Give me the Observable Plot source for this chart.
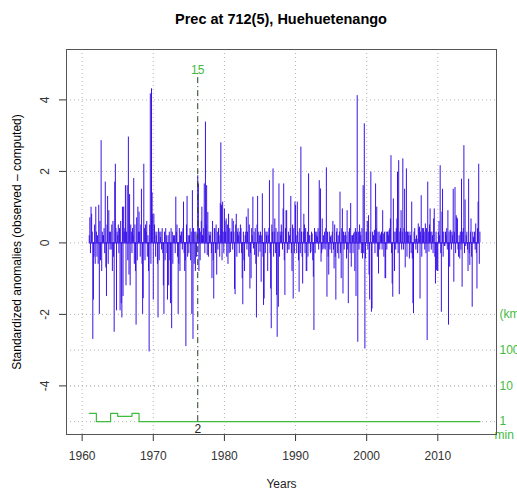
<!DOCTYPE html>
<html><head><meta charset="utf-8">
<script src="https://cdn.jsdelivr.net/npm/d3@7"></script>
<script src="https://cdn.jsdelivr.net/npm/@observablehq/plot@0.6"></script>
<style>
body{margin:0;background:#fff;font-family:"Liberation Sans",Arial,sans-serif;}
#title{height:25px;padding-top:11px;margin-left:66px;width:430px;text-align:center;font-weight:bold;font-size:14.5px;line-height:16px;color:#000;}
#chart svg{display:block;}
</style></head><body>
<div id="title">Prec at 712(5), Huehuetenango</div>
<div id="chart"></div>
<script>
const startYear = 1961;
const xTicks = [1960, 1970, 1980, 1990, 2000, 2010];
const yTicks = [-4, -2, 0, 2, 4];
const kmTicks = [1, 10, 100];
const breakYear = 1976.25;
const breakTop = "15";
const breakBottom = "2";
// monthly standardized anomalies, 12 per year
const anom1960s = [
 0.2,0.7,-0.3,1.0,0.8,0.3,-2.7,-1.6,-0.4,0.5,-0.6,1.0,
 0.3,-0.4,0.2,-0.6,1.05,-2.0,0.6,-0.5,2.86,-0.8,0.3,0.2,
 0.2,0.4,-0.3,1.7,-0.7,-1.5,0.5,1.3,-0.6,0.9,0.3,-0.2,
 0.3,-0.2,0.5,-0.8,0.6,-0.4,-2.5,1.7,2.2,0.4,-1.9,0.3,
 0.2,0.5,-0.3,0.4,-1.9,0.6,-1.7,-2.1,1.0,-1.5,1.0,0.3,
 0.4,1.6,-1.2,0.3,1.6,-0.5,2.96,-0.9,1.35,-1.2,0.5,0.3,
 -0.3,0.4,0.2,1.8,-0.6,0.5,-0.8,-2.3,0.7,-0.5,1.0,0.3,
 0.86,0.3,-0.4,0.5,1.5,-0.6,-2.0,-1.56,2.2,0.4,-0.5,0.5,
 0.3,0.6,-0.4,0.2,-0.8,-3.05,0.5,4.17,-0.6,4.31,1.4,0.8
];
const anom1970s = [
 -1.6,0.8,0.5,0.3,-0.4,0.2,0.3,-0.6,-2.1,0.4,-0.5,0.3,
 0.15,0.3,-0.2,0.4,-0.3,-1.2,-2.0,0.3,-0.5,0.4,0.2,-0.3,
 -1.6,0.2,-1.2,0.3,-0.5,-1.7,0.4,-2.4,0.3,-0.6,0.2,0.1,
 0.2,-0.3,1.28,0.3,0.5,-0.4,-2.0,-0.6,0.4,-0.8,0.2,0.3,
 0.3,-0.2,0.4,1.14,-0.3,-0.8,-0.5,-2.9,0.5,1.3,-0.4,0.2,
 -0.3,0.2,0.4,-0.5,0.3,-2.0,1.46,-2.7,0.4,-0.6,0.3,-0.8,
 0.3,-0.4,0.2,1.88,1.65,-0.8,0.4,-0.5,0.3,0.6,1.0,0.2,
 0.2,0.4,1.65,-0.3,3.38,0.5,1.6,-0.35,0.85,-0.4,0.3,0.2,
 0.2,0.3,-0.3,-1.0,0.6,-0.5,-1.57,0.4,0.4,-0.3,0.5,-0.9,
 0.3,-0.2,0.4,0.2,-0.4,1.1,2.8,1.05,-0.5,1.14,0.3,-0.3
];
const anom1980s = [
 0.95,0.6,0.3,0.67,-0.4,0.5,-0.6,0.8,-0.3,0.4,-0.27,0.3,
 0.3,0.67,-0.2,0.6,0.3,-1.3,-1.45,0.5,0.8,-0.4,0.3,0.4,
 0.2,-0.3,0.3,0.5,0.4,-0.3,-1.0,-1.73,0.3,-0.5,-0.8,0.2,
 0.3,0.72,-0.2,0.3,0.95,-0.4,0.5,-1.29,-0.3,-1.0,0.4,0.2,
 1.28,-0.17,0.3,-0.35,0.4,-0.6,-2.1,0.5,1.3,-0.4,0.3,0.2,
 -0.26,0.3,-1.1,0.2,1.37,-0.4,-1.75,-1.57,0.4,-0.3,0.3,0.2,
 0.3,-0.8,0.2,0.4,1.74,-0.3,-1.29,-2.4,0.5,0.3,2.07,-0.4,
 0.3,0.67,-0.3,0.4,-1.47,-2.64,0.3,-1.8,1.65,-0.4,0.3,0.2,
 0.5,0.3,-0.2,0.95,1.65,-0.5,-1.47,0.4,0.9,0.9,-0.3,-0.2,
 0.3,-0.2,0.2,0.4,1.3,-0.3,-0.8,0.5,-1.57,0.4,-0.3,1.14
];
const anom1990s = [
 1.05,0.2,-0.3,1.14,0.3,-0.5,-1.38,0.4,-0.3,2.68,0.3,-0.4,
 -1.15,0.3,0.8,0.5,-0.3,0.4,-0.8,-0.8,0.3,-0.4,1.93,0.2,
 0.2,-0.3,-0.26,0.3,0.25,-0.5,-0.96,-2.45,0.4,-0.3,0.3,0.2,
 0.3,0.16,0.4,-0.2,1.74,0.3,1.51,-0.54,-0.3,0.67,-0.2,0.2,
 -0.17,0.3,-0.2,0.4,2.1,-1.52,0.3,-0.4,-0.9,0.3,-0.2,0.16,
 0.2,-0.3,0.3,0.6,-0.2,-0.73,0.5,-0.4,-1.6,0.3,0.4,-0.3,
 0.2,-0.45,0.3,1.42,-0.3,-1.0,0.4,0.95,-1.43,0.3,-0.2,0.2,
 0.3,0.2,-0.45,0.9,-0.2,-1.7,0.3,0.4,-0.3,1.1,-0.68,0.2,
 0.2,-0.3,0.25,0.3,-0.8,0.4,-1.5,0.3,4.12,-2.78,0.3,-0.2,
 0.5,0.3,0.2,-0.3,0.4,-0.45,1.6,-0.3,3.33,-2.97,-0.45,0.3
];
const anom2000s = [
 0.3,0.6,-0.2,0.76,-0.9,-1.6,0.3,1.98,-1.94,-1.85,0.3,0.2,
 0.2,0.35,-0.3,1.65,0.4,1.0,-0.4,0.3,-0.87,0.3,-0.2,0.2,
 0.25,0.3,-0.2,0.9,0.25,-0.4,0.3,-1.0,-1.0,0.3,-0.2,0.3,
 0.3,0.2,0.35,0.4,0.67,2.44,-0.3,-1.15,-1.52,1.23,0.3,-0.8,
 0.3,-0.2,0.4,0.67,1.98,-0.3,2.3,-1.45,0.3,0.4,0.9,-0.2,
 0.3,2.35,-0.2,0.4,1.5,-0.7,0.3,2.07,-0.4,0.3,0.3,0.2,
 -0.45,0.3,0.2,-0.3,1.14,-0.45,-1.7,-1.98,0.3,0.4,0.1,-0.2,
 0.2,0.1,-0.3,0.53,0.4,0.44,-1.57,0.3,1.32,-0.4,0.4,0.2,
 0.4,0.3,-0.2,0.53,-0.3,0.4,-2.73,1.7,0.3,-0.26,0.5,0.95,
 0.3,-0.2,0.3,0.2,-0.3,0.67,0.95,-0.4,-1.15,0.3,-0.77,-0.8
];
const anom2010s = [
 -0.8,0.3,0.6,0.2,2.16,-0.3,-1.94,0.86,1.5,-0.4,0.3,-0.1,
 -0.1,0.3,0.2,0.4,-0.2,0.9,-2.3,0.3,-0.68,0.35,0.3,-0.2,
 0.3,0.2,1.5,-1.1,0.3,1.55,-0.3,0.76,0.7,0.67,-0.2,-0.4,
 0.2,-0.45,0.3,-0.2,1.78,-1.24,0.3,0.4,2.72,-0.3,1.2,-0.1,
 0.2,0.3,-0.2,-0.8,1.78,-0.3,-0.63,0.3,0.67,-0.4,-1.8,0.3,
 0.16,0.1,0.3,-0.2,0.53,-0.3,-1.29,0.4,1.14,2.2,-0.6,0.3
];
// minimum distance to neighbouring stations (km), step series
const distYears = [1961, 1962, 1964, 1965, 1967, 1968, 2015.92];
const distKm = [1.7, 1, 1.7, 1.4, 1.7, 1, 1];
const kmLabels = ["1", "10", "100"];

const values = [...anom1960s, ...anom1970s, ...anom1980s, ...anom1990s, ...anom2000s, ...anom2010s];
const series = values.map((v, i) => ({t: startYear + i / 12, v}));
const tEnd = series[series.length - 1].t;
const dist = distYears.map((t, i) => ({t, y: -5 + Math.log10(distKm[i])}));

const blue = "#3a12e6";
const green = "#3fbb3f";
const gridStyle = {stroke: "#b4b4b4", strokeDasharray: "1,3", strokeWidth: 1};

const plot = Plot.plot({
  width: 517, height: 461,
  marginLeft: 66, marginRight: 21, marginTop: 13, marginBottom: 63,
  style: {fontFamily: "Liberation Sans, Arial, sans-serif", fontSize: "12px", color: "#333", background: "#fff"},
  x: {domain: [1957.8, 2018.25], ticks: xTicks, tickFormat: d => String(d), tickSize: 7, tickPadding: 10, label: null},
  y: {domain: [-5.36, 5.41], ticks: yTicks, tickFormat: () => "", tickSize: 7, tickPadding: 0, label: null},
  marks: [
    Plot.ruleX(xTicks, {...gridStyle}),
    Plot.ruleY([...yTicks, ...kmTicks.map(k => -5 + Math.log10(k))], {...gridStyle}),
    Plot.ruleX(series, {x: "t", y1: 0, y2: "v", stroke: blue, strokeWidth: 1}),
    Plot.ruleY([0], {x1: startYear, x2: tEnd, stroke: blue, strokeWidth: 1.2}),
    Plot.line(dist, {x: "t", y: "y", curve: "step-after", stroke: green, strokeWidth: 1.2}),
    Plot.ruleX([breakYear], {y1: -5, y2: 4.75, stroke: "#1f3f1f", strokeWidth: 1, strokeDasharray: "6,3,1,3"}),
    Plot.text([breakTop], {x: breakYear, frameAnchor: "top", dy: 16, fill: green, fontSize: 12}),
    Plot.text([breakBottom], {x: breakYear, y: -5, dy: 8, fill: "#222", fontSize: 12}),
    Plot.text(yTicks, {y: d => d, text: d => String(d), frameAnchor: "left", textAnchor: "middle", dx: -21, rotate: -90, fill: "#333", fontSize: 12}),
    Plot.text(["Standardized anomalies (observed \u2013 computed)"], {frameAnchor: "left", textAnchor: "middle", dx: -49, rotate: -90, fill: "#000", fontSize: 12}),
    Plot.text(["Years"], {frameAnchor: "bottom", dy: 53, fill: "#222", fontSize: 12}),
    Plot.text(kmTicks, {y: d => -5 + Math.log10(d), text: (d, i) => kmLabels[i], frameAnchor: "right", dx: 3, textAnchor: "start", fill: green, fontSize: 12}),
    Plot.text(["(km)"], {y: -2, frameAnchor: "right", dx: 3, textAnchor: "start", fill: green, fontSize: 12}),
    Plot.text(["min"], {frameAnchor: "bottom-right", dy: 4, dx: -2, textAnchor: "start", fill: green, fontSize: 12}),
    Plot.frame({stroke: "#555", strokeWidth: 1})
  ]
});
document.getElementById("chart").appendChild(plot);
</script>
</body></html>
